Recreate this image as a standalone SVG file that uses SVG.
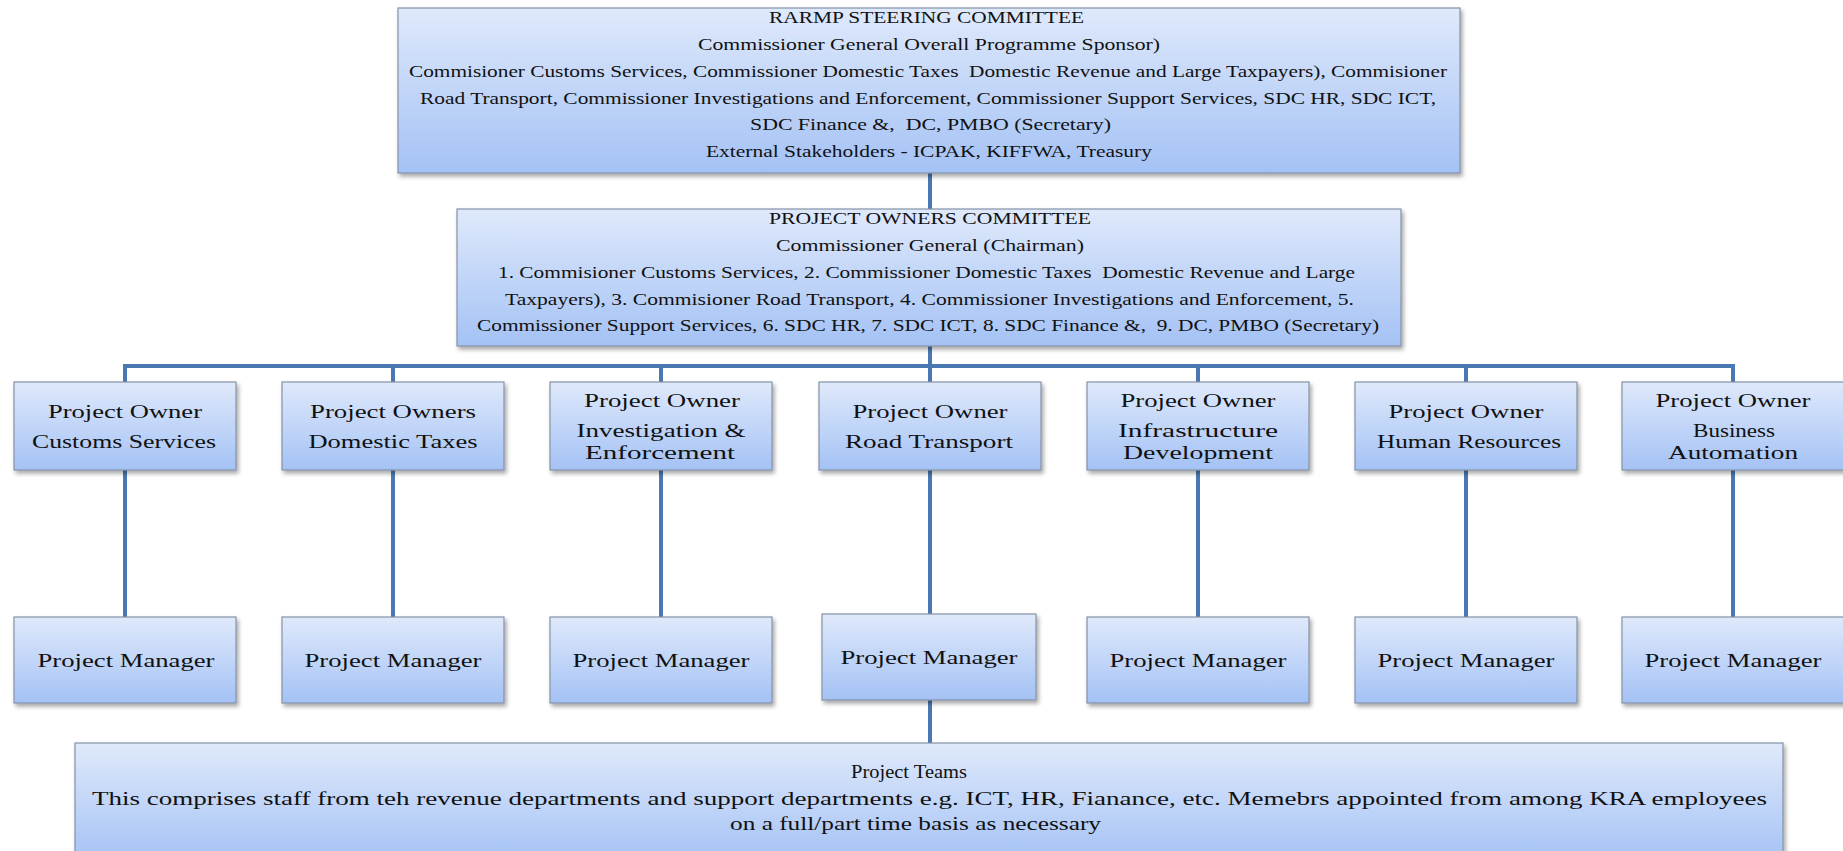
<svg xmlns="http://www.w3.org/2000/svg" width="1843" height="851" viewBox="0 0 1843 851">
  <defs>
    <linearGradient id="boxFill" x1="0" y1="0" x2="0" y2="1">
      <stop offset="0" stop-color="#dfe9fb"/>
      <stop offset="1" stop-color="#a4c2f5"/>
    </linearGradient>
    <filter id="shadow" x="-5%" y="-10%" width="115%" height="130%">
      <feDropShadow dx="2" dy="3" stdDeviation="2" flood-color="#000" flood-opacity="0.35"/>
    </filter>
  </defs>
  <style>
    .box { fill: url(#boxFill); stroke: #8492a6; stroke-width: 1.2; filter: url(#shadow); }
    .link { fill: none; stroke: #4a78b2; stroke-width: 4; stroke-linejoin: miter; }
    text { font-family: "Liberation Serif", "Times New Roman", serif; fill: #111; }
    .cm { font-size: 16px; }
    .nd { font-size: 19px; text-anchor: middle; }
    .tm { font-size: 18px; }
  </style>

  <!-- connectors -->
  <g id="connectors">
    <path class="link" d="M930 173 V209"/>
    <path class="link" d="M930 346 V382"/>
    <path class="link" d="M125 382 V366 H1733 V382"/>
    <path class="link" d="M393 366 V382"/>
    <path class="link" d="M661 366 V382"/>
    <path class="link" d="M1198 366 V382"/>
    <path class="link" d="M1466 366 V382"/>
    <path class="link" d="M125 470 V617"/>
    <path class="link" d="M393 470 V617"/>
    <path class="link" d="M661 470 V617"/>
    <path class="link" d="M930 470 V614"/>
    <path class="link" d="M1198 470 V617"/>
    <path class="link" d="M1466 470 V617"/>
    <path class="link" d="M1733 470 V617"/>
    <path class="link" d="M930 700 V743"/>
  </g>

  <!-- steering committee -->
  <g id="steering-committee">
    <rect class="box" x="398" y="8" width="1062" height="165"/>
    <text class="cm" x="769" y="23" textLength="315" lengthAdjust="spacingAndGlyphs">RARMP STEERING COMMITTEE</text>
    <text class="cm" x="698" y="50" textLength="462" lengthAdjust="spacingAndGlyphs">Commissioner General Overall Programme Sponsor)</text>
    <text class="cm" x="409" y="77" textLength="1038" lengthAdjust="spacingAndGlyphs" xml:space="preserve">Commisioner Customs Services, Commissioner Domestic Taxes  Domestic Revenue and Large Taxpayers), Commisioner</text>
    <text class="cm" x="420" y="104" textLength="1016" lengthAdjust="spacingAndGlyphs">Road Transport, Commissioner Investigations and Enforcement, Commissioner Support Services, SDC HR, SDC ICT,</text>
    <text class="cm" x="750" y="130" textLength="361" lengthAdjust="spacingAndGlyphs" xml:space="preserve">SDC Finance &amp;,  DC, PMBO (Secretary)</text>
    <text class="cm" x="706" y="157" textLength="446" lengthAdjust="spacingAndGlyphs">External Stakeholders - ICPAK, KIFFWA, Treasury</text>
  </g>

  <!-- project owners committee -->
  <g id="owners-committee">
    <rect class="box" x="457" y="209" width="944" height="137"/>
    <text class="cm" x="769" y="224" textLength="322" lengthAdjust="spacingAndGlyphs">PROJECT OWNERS COMMITTEE</text>
    <text class="cm" x="776" y="251" textLength="308" lengthAdjust="spacingAndGlyphs">Commissioner General (Chairman)</text>
    <text class="cm" x="498" y="278" textLength="857" lengthAdjust="spacingAndGlyphs" xml:space="preserve">1. Commisioner Customs Services, 2. Commissioner Domestic Taxes  Domestic Revenue and Large</text>
    <text class="cm" x="505" y="305" textLength="849" lengthAdjust="spacingAndGlyphs">Taxpayers), 3. Commisioner Road Transport, 4. Commissioner Investigations and Enforcement, 5.</text>
    <text class="cm" x="477" y="331" textLength="902" lengthAdjust="spacingAndGlyphs" xml:space="preserve">Commissioner Support Services, 6. SDC HR, 7. SDC ICT, 8. SDC Finance &amp;,  9. DC, PMBO (Secretary)</text>
  </g>

  <!-- project owners -->
  <g id="owner-customs">
    <rect class="box" x="14" y="382" width="222" height="88"/>
    <text class="nd" x="125" y="418" textLength="154" lengthAdjust="spacingAndGlyphs">Project Owner</text>
    <text class="nd" x="124" y="448" textLength="184" lengthAdjust="spacingAndGlyphs">Customs Services</text>
  </g>
  <g id="owner-domestic">
    <rect class="box" x="282" y="382" width="222" height="88"/>
    <text class="nd" x="393" y="418" textLength="166" lengthAdjust="spacingAndGlyphs">Project Owners</text>
    <text class="nd" x="393" y="448" textLength="169" lengthAdjust="spacingAndGlyphs">Domestic Taxes</text>
  </g>
  <g id="owner-investigation">
    <rect class="box" x="550" y="382" width="222" height="88"/>
    <text class="nd" x="662" y="407" textLength="156" lengthAdjust="spacingAndGlyphs">Project Owner</text>
    <text class="nd" x="661" y="437" textLength="169" lengthAdjust="spacingAndGlyphs">Investigation &amp;</text>
    <text class="nd" x="660" y="459" textLength="150" lengthAdjust="spacingAndGlyphs">Enforcement</text>
  </g>
  <g id="owner-road">
    <rect class="box" x="819" y="382" width="222" height="88"/>
    <text class="nd" x="930" y="418" textLength="155" lengthAdjust="spacingAndGlyphs">Project Owner</text>
    <text class="nd" x="929" y="448" textLength="168" lengthAdjust="spacingAndGlyphs">Road Transport</text>
  </g>
  <g id="owner-infrastructure">
    <rect class="box" x="1087" y="382" width="222" height="88"/>
    <text class="nd" x="1198" y="407" textLength="155" lengthAdjust="spacingAndGlyphs">Project Owner</text>
    <text class="nd" x="1198" y="437" textLength="160" lengthAdjust="spacingAndGlyphs">Infrastructure</text>
    <text class="nd" x="1198" y="459" textLength="150" lengthAdjust="spacingAndGlyphs">Development</text>
  </g>
  <g id="owner-hr">
    <rect class="box" x="1355" y="382" width="222" height="88"/>
    <text class="nd" x="1466" y="418" textLength="155" lengthAdjust="spacingAndGlyphs">Project Owner</text>
    <text class="nd" x="1469" y="448" textLength="184" lengthAdjust="spacingAndGlyphs">Human Resources</text>
  </g>
  <g id="owner-automation">
    <rect class="box" x="1622" y="382" width="222" height="88"/>
    <text class="nd" x="1733" y="407" textLength="155" lengthAdjust="spacingAndGlyphs">Project Owner</text>
    <text class="nd" x="1734" y="437" textLength="82" lengthAdjust="spacingAndGlyphs">Business</text>
    <text class="nd" x="1733" y="459" textLength="130" lengthAdjust="spacingAndGlyphs">Automation</text>
  </g>

  <!-- project managers -->
  <g id="pm-customs">
    <rect class="box" x="14" y="617" width="222" height="86"/>
    <text class="nd" x="126" y="667" textLength="177" lengthAdjust="spacingAndGlyphs">Project Manager</text>
  </g>
  <g id="pm-domestic">
    <rect class="box" x="282" y="617" width="222" height="86"/>
    <text class="nd" x="393" y="667" textLength="177" lengthAdjust="spacingAndGlyphs">Project Manager</text>
  </g>
  <g id="pm-investigation">
    <rect class="box" x="550" y="617" width="222" height="86"/>
    <text class="nd" x="661" y="667" textLength="177" lengthAdjust="spacingAndGlyphs">Project Manager</text>
  </g>
  <g id="pm-road">
    <rect class="box" x="822" y="614" width="214" height="86"/>
    <text class="nd" x="929" y="664" textLength="177" lengthAdjust="spacingAndGlyphs">Project Manager</text>
  </g>
  <g id="pm-infrastructure">
    <rect class="box" x="1087" y="617" width="222" height="86"/>
    <text class="nd" x="1198" y="667" textLength="177" lengthAdjust="spacingAndGlyphs">Project Manager</text>
  </g>
  <g id="pm-hr">
    <rect class="box" x="1355" y="617" width="222" height="86"/>
    <text class="nd" x="1466" y="667" textLength="177" lengthAdjust="spacingAndGlyphs">Project Manager</text>
  </g>
  <g id="pm-automation">
    <rect class="box" x="1622" y="617" width="222" height="86"/>
    <text class="nd" x="1733" y="667" textLength="177" lengthAdjust="spacingAndGlyphs">Project Manager</text>
  </g>

  <!-- project teams -->
  <g id="project-teams">
    <rect class="box" x="75" y="743" width="1708" height="120"/>
    <text class="tm" x="851" y="778" textLength="116" lengthAdjust="spacingAndGlyphs">Project Teams</text>
    <text class="tm" x="92" y="805" textLength="1675" lengthAdjust="spacingAndGlyphs">This comprises staff from teh revenue departments and support departments e.g. ICT, HR, Fianance, etc. Memebrs appointed from among KRA employees</text>
    <text class="tm" x="730" y="830" textLength="371" lengthAdjust="spacingAndGlyphs">on a full/part time basis as necessary</text>
  </g>
</svg>
